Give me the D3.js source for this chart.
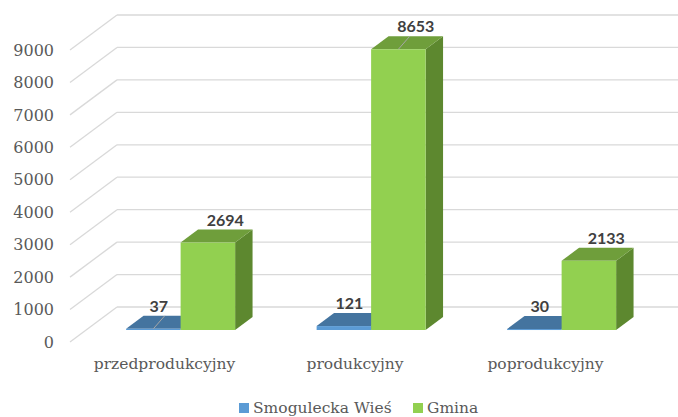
<!DOCTYPE html>
<html><head><meta charset="utf-8">
<script src="https://cdn.jsdelivr.net/npm/d3@7/dist/d3.min.js"></script>
<style>body{margin:0;background:#fff}svg{display:block}</style>
</head><body>
<svg id="c" width="678" height="417"></svg>
<script>
const categories = ["przedprodukcyjny", "produkcyjny", "poprodukcyjny"];
const seriesNames = ["Smogulecka Wieś", "Gmina"];
const smogulecka = [37, 121, 30];
const gmina = [2694, 8653, 2133];
const yTicks = [0, 1000, 2000, 3000, 4000, 5000, 6000, 7000, 8000, 9000];
const leaderLines = [["Smogulecka Wieś", "przedprodukcyjny"], ["Gmina", "produkcyjny"]];

const seriesValues = [smogulecka, gmina];
const colors = {
  "Smogulecka Wieś": {front: "#5B9BD5", top: "#44749F", side: "#3A6690", legend: "#5B9BD5", ldx: -12},
  "Gmina": {front: "#92D050", top: "#6F9E3B", side: "#5D882F", legend: "#92D050", ldx: 0}
};

const W = 678, H = 417;
const DX = 47, DY = -35;        // chart depth offset
const d0 = 0.343, d1 = 0.714;   // bar depth span (fraction of depth)
const svg = d3.select("#c");

const y = d3.scaleLinear().domain([0, 9000]).range([342, 50]);
const x = d3.scaleBand().domain(categories).range([69.25, 640.75]).paddingInner(0).paddingOuter(0);

// grid: left wall diagonals + back wall lines
const grid = svg.append("g");
yTicks.forEach(t => {
  const yf = y(t);
  grid.append("line").attr("x1", 70).attr("y1", yf).attr("x2", 70 + DX).attr("y2", yf + DY)
    .attr("stroke", "#D9D9D9").attr("stroke-width", 1.3);
  grid.append("line").attr("x1", 70 + DX).attr("y1", yf + DY).attr("x2", W).attr("y2", yf + DY)
    .attr("stroke", "#D9D9D9").attr("stroke-width", 1.3);
});

// y-axis labels (front plane)
const yAxis = d3.axisLeft(y).tickValues(yTicks).tickSize(0).tickPadding(0).tickFormat(d3.format("d"));
const ya = svg.append("g").attr("transform", "translate(54,0)").call(yAxis);
ya.select(".domain").remove();
ya.selectAll("text").attr("font-family", "DejaVu Serif").attr("font-size", 16).attr("fill", "#595959");

// category labels
const xAxis = d3.axisBottom(x).tickSize(0).tickPadding(0);
const xa = svg.append("g").attr("transform", "translate(0,358)").call(xAxis);
xa.select(".domain").remove();
xa.selectAll("text").attr("font-family", "DejaVu Serif").attr("font-size", 15.5).attr("fill", "#595959");

const pairW = 109;
const bars = svg.append("g");
const labels = svg.append("g");
const fx = d0 * DX, fy = d0 * DY, ddx = (d1 - d0) * DX, ddy = (d1 - d0) * DY;

categories.forEach((c, ci) => {
  const center = x(c) + x.bandwidth() / 2;
  const sub = d3.scaleBand().domain(seriesNames).range([center - pairW / 2, center + pairW / 2]);
  seriesNames.forEach((s, si) => {
    const v = seriesValues[si][ci];
    const col = colors[s];
    const x0 = sub(s) + fx, x1 = x0 + sub.bandwidth();
    const yb = y(0) + fy, yt = y(v) + fy;
    const g = bars.append("g");
    g.append("path").attr("fill", col.side)
      .attr("d", `M${x1},${yt}L${x1 + ddx},${yt + ddy}L${x1 + ddx},${yb + ddy}L${x1},${yb}Z`);
    g.append("path").attr("fill", col.top)
      .attr("d", `M${x0},${yt}L${x1},${yt}L${x1 + ddx},${yt + ddy}L${x0 + ddx},${yt + ddy}Z`);
    g.append("rect").attr("x", x0).attr("y", yt).attr("width", x1 - x0).attr("height", Math.max(1, yb - yt))
      .attr("fill", col.front);
    const cx = (x0 + x1) / 2;
    if (leaderLines.some(p => p[0] === s && p[1] === c)) {
      g.append("line").attr("x1", cx).attr("y1", yt).attr("x2", cx + ddx * 0.65).attr("y2", yt + ddy)
        .attr("stroke", "#A6A6A6").attr("stroke-width", 1);
    }
    labels.append("text").attr("x", cx + ddx + col.ldx).attr("y", yt + ddy - 4)
      .attr("text-anchor", "middle").attr("font-family", "Lato").attr("font-weight", "bold")
      .attr("font-size", 16).attr("fill", "#404040").text(v);
  });
});

// legend
const leg = svg.append("g");
const legPos = [239, 413];
seriesNames.forEach((s, i) => {
  leg.append("rect").attr("x", legPos[i]).attr("y", 403).attr("width", 10).attr("height", 10).attr("fill", colors[s].legend);
  leg.append("text").attr("x", legPos[i] + 14).attr("y", 413).attr("font-family", "DejaVu Serif")
    .attr("font-size", 15.5).attr("fill", "#595959").text(s);
});
</script>
</body></html>
